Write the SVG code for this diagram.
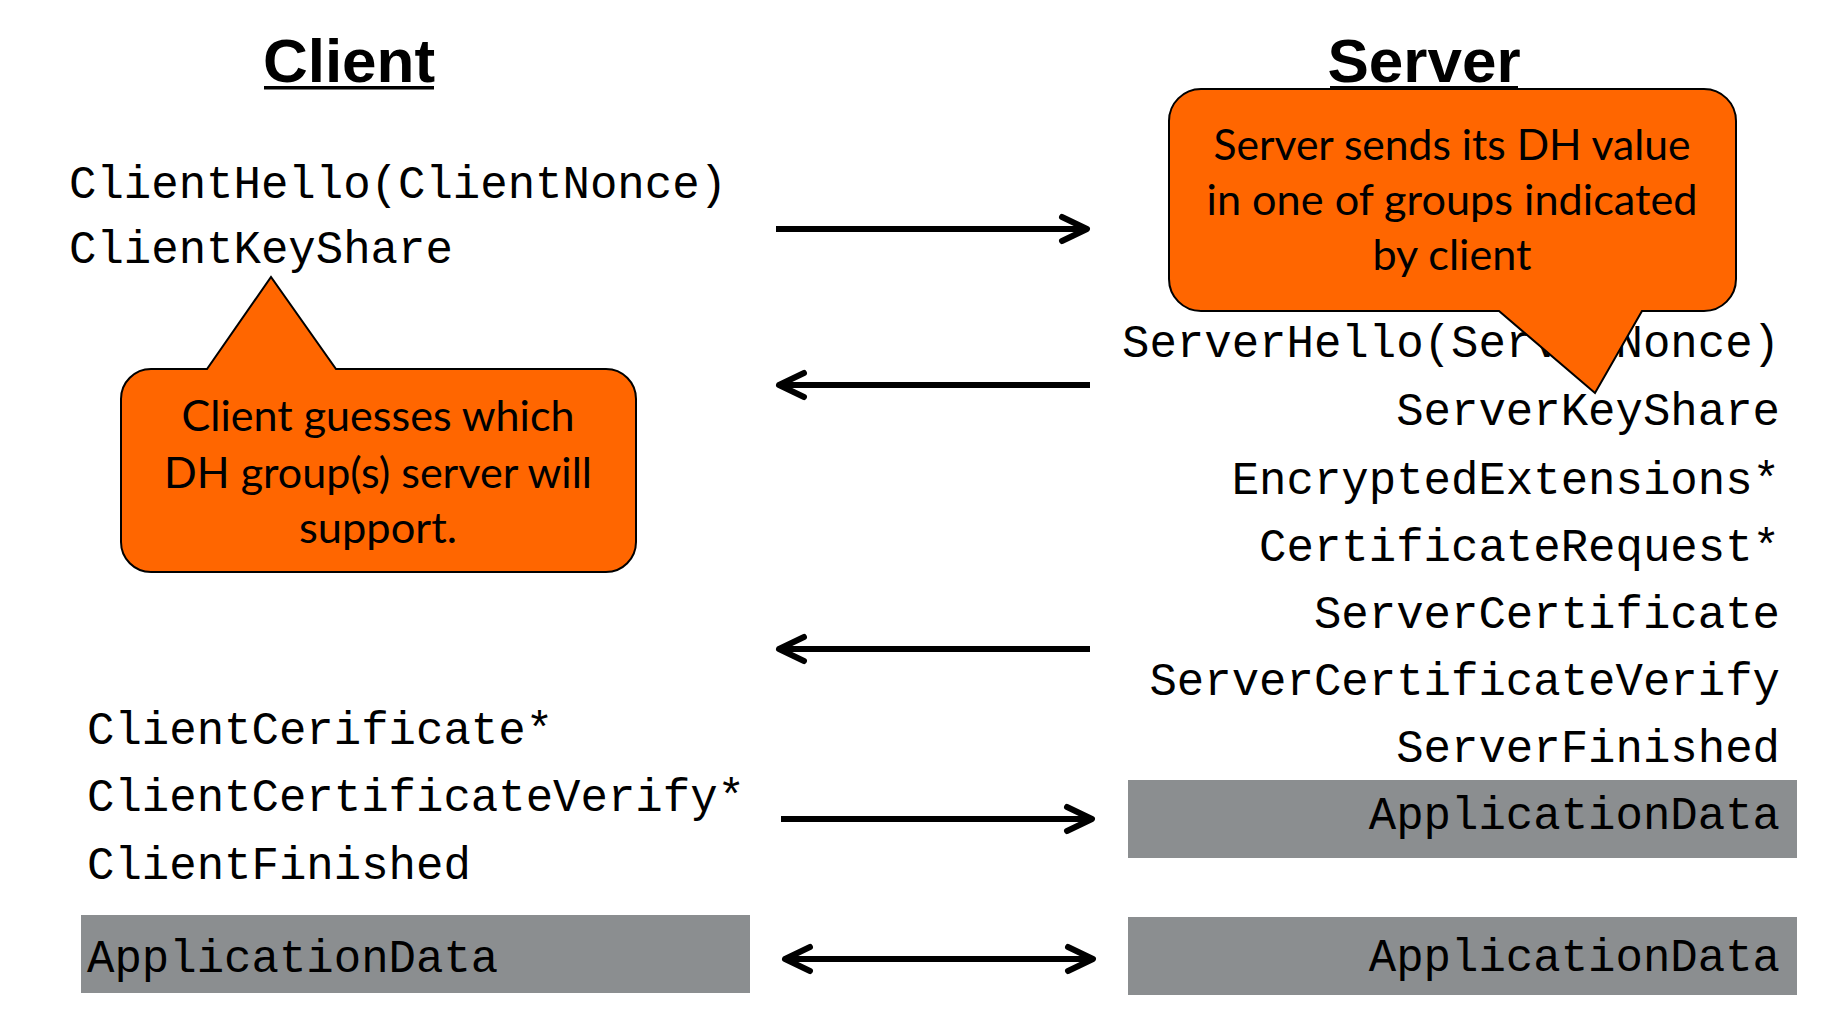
<svg xmlns="http://www.w3.org/2000/svg" width="1841" height="1013" viewBox="0 0 1841 1013">
<style>
.title{font-family:"Liberation Sans",Arial,sans-serif;font-weight:bold;font-size:62px;fill:#000;text-anchor:middle}
.mono{font-family:"Liberation Mono","Courier New",monospace;font-size:45.7px;fill:#000}
.end{text-anchor:end}
.box{fill:#8B8E90}
.callout{fill:#FF6600;stroke:#000;stroke-width:2}
.ct{font-family:Lato,"Open Sans",sans-serif;font-size:42px;fill:#000;text-anchor:middle}
.arrow{stroke:#000;stroke-width:6;fill:none}
</style>
<defs>
<marker id="ah" markerUnits="userSpaceOnUse" viewBox="-32 -18 38 36" markerWidth="38" markerHeight="36" refX="0" refY="0" orient="auto-start-reverse">
<path d="M-25,-12 L0,0 L-25,12" fill="none" stroke="#000" stroke-width="6" stroke-linecap="round" stroke-linejoin="round"/>
</marker>
</defs>
<rect width="1841" height="1013" fill="#fff"/>

<g id="client-title">
<text class="title" x="349" y="82">Client</text>
<rect x="264" y="86" width="170" height="3.5" fill="#000"/>
</g>
<g id="server-title">
<text class="title" x="1424" y="82">Server</text>
<rect x="1330" y="86" width="188" height="3.5" fill="#000"/>
</g>

<g id="client-messages-1">
<text class="mono" x="69" y="198">ClientHello(ClientNonce)</text>
<text class="mono" x="69" y="263">ClientKeyShare</text>
</g>

<g id="server-messages">
<text class="mono end" x="1780" y="357">ServerHello(ServerNonce)</text>
<text class="mono end" x="1780" y="425">ServerKeyShare</text>
<text class="mono end" x="1780" y="494">EncryptedExtensions*</text>
<text class="mono end" x="1780" y="561">CertificateRequest*</text>
<text class="mono end" x="1780" y="628">ServerCertificate</text>
<text class="mono end" x="1780" y="695">ServerCertificateVerify</text>
<text class="mono end" x="1780" y="762">ServerFinished</text>
</g>

<g id="server-appdata-1">
<rect class="box" x="1128" y="780" width="669" height="78"/>
<text class="mono end" x="1780" y="829" fill="#1a1a1a">ApplicationData</text>
</g>
<g id="server-appdata-2">
<rect class="box" x="1128" y="917" width="669" height="78"/>
<text class="mono end" x="1780" y="971" fill="#1a1a1a">ApplicationData</text>
</g>

<g id="client-messages-2">
<text class="mono" x="87" y="744">ClientCerificate*</text>
<text class="mono" x="87" y="811">ClientCertificateVerify*</text>
<text class="mono" x="87" y="879">ClientFinished</text>
</g>
<g id="client-appdata">
<rect class="box" x="81" y="915" width="669" height="78"/>
<text class="mono" x="87" y="972" fill="#1a1a1a">ApplicationData</text>
</g>

<g id="connectors">
<line class="arrow" x1="776" y1="229" x2="1087" y2="229" marker-end="url(#ah)"/>
<line class="arrow" x1="1090" y1="385" x2="779" y2="385" marker-end="url(#ah)"/>
<line class="arrow" x1="1090" y1="649" x2="779" y2="649" marker-end="url(#ah)"/>
<line class="arrow" x1="781" y1="819" x2="1092" y2="819" marker-end="url(#ah)"/>
<line class="arrow" x1="785" y1="959" x2="1093" y2="959" marker-start="url(#ah)" marker-end="url(#ah)"/>
</g>

<g id="client-callout">
<path class="callout" d="M151,369 L207,369 L271,277 L336,369 L606,369 A30,30 0 0 1 636,399 L636,542 A30,30 0 0 1 606,572 L151,572 A30,30 0 0 1 121,542 L121,399 A30,30 0 0 1 151,369 Z"/>
<text class="ct" x="378" y="431" textLength="393" lengthAdjust="spacingAndGlyphs">Client guesses which</text>
<text class="ct" x="378" y="488" textLength="428" lengthAdjust="spacingAndGlyphs">DH group(s) server will</text>
<text class="ct" x="378" y="543" textLength="158" lengthAdjust="spacingAndGlyphs">support.</text>
</g>

<g id="server-callout">
<path class="callout" d="M1201,89 L1704,89 A32,32 0 0 1 1736,121 L1736,279 A32,32 0 0 1 1704,311 L1642,311 L1595,393 L1499,311 L1201,311 A32,32 0 0 1 1169,279 L1169,121 A32,32 0 0 1 1201,89 Z"/>
<text class="ct" x="1452" y="160" textLength="477" lengthAdjust="spacingAndGlyphs">Server sends its DH value</text>
<text class="ct" x="1452" y="215" textLength="491" lengthAdjust="spacingAndGlyphs">in one of groups indicated</text>
<text class="ct" x="1452" y="270" textLength="159" lengthAdjust="spacingAndGlyphs">by client</text>
</g>
</svg>
